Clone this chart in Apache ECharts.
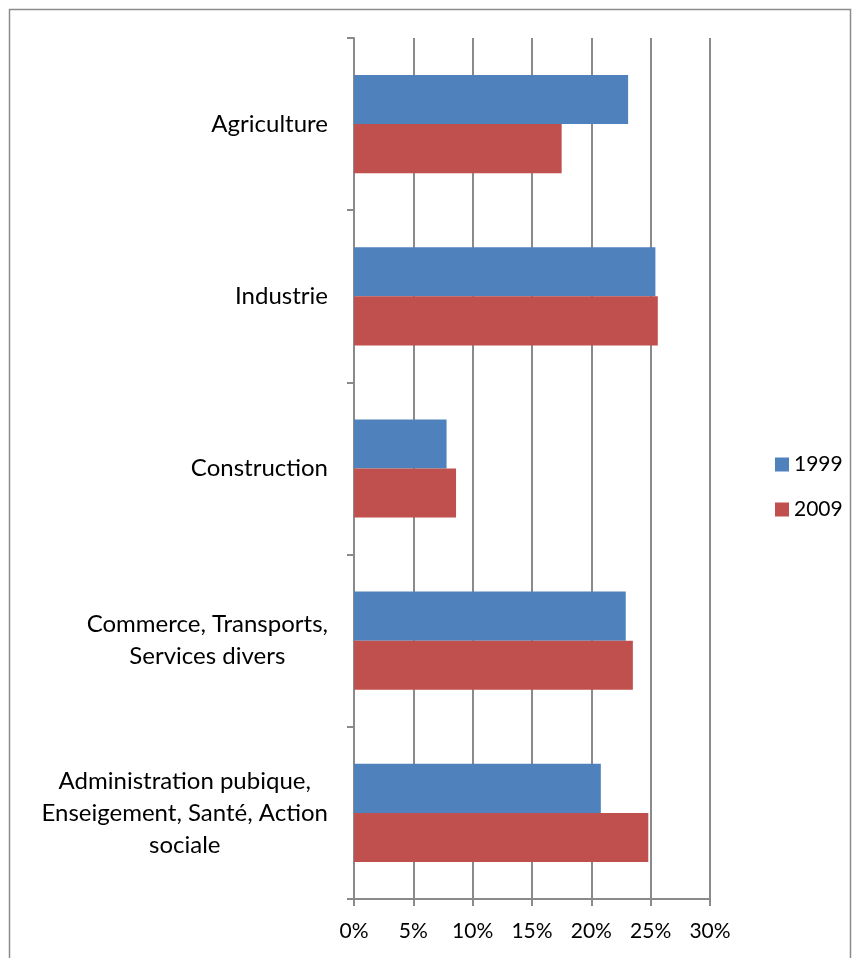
<!DOCTYPE html>
<html>
<head>
<meta charset="utf-8">
<script src="https://cdn.jsdelivr.net/npm/echarts@6/dist/echarts.min.js"></script>
<style>
html,body{margin:0;padding:0;background:#fff;}
#chart{width:852px;height:958px;}
</style>
</head>
<body>
<div id="chart"></div>
<script>
const categories = [
  "Agriculture",
  "Industrie",
  "Construction",
  "Commerce, Transports,\nServices divers",
  "Administration pubique,\nEnseigement, Santé, Action\nsociale"
];
const seriesNames = ["1999", "2009"];
const values1999 = [23.1, 25.4, 7.8, 22.9, 20.8];
const values2009 = [17.5, 25.6, 8.6, 23.5, 24.8];
const xTicks = { min: 0, max: 30, interval: 5 };

const FONT = "Lato, 'Open Sans', sans-serif";
const chart = echarts.init(document.getElementById('chart'));
chart.setOption({
  animation: false,
  backgroundColor: '#ffffff',
  graphic: [{
    type: 'rect',
    shape: { x: 9.5, y: 9.5, width: 841, height: 960 },
    style: { fill: 'none', stroke: '#8c8c8c', lineWidth: 1.5 },
    silent: true
  }],
  grid: { left: 354, right: 142, top: 38, bottom: 59, containLabel: false },
  legend: {
    orient: 'vertical',
    left: 775,
    top: 454,
    padding: 0,
    itemWidth: 14,
    itemHeight: 14,
    itemGap: 24,
    icon: 'rect',
    textStyle: { fontFamily: FONT, fontSize: 21, color: '#000' },
    data: seriesNames
  },
  xAxis: {
    type: 'value',
    min: xTicks.min,
    max: xTicks.max,
    interval: xTicks.interval,
    axisLine: { show: true, lineStyle: { color: '#8a8a8a', width: 2 } },
    axisTick: { show: true, length: 7, lineStyle: { color: '#8a8a8a', width: 2 } },
    splitLine: { show: true, lineStyle: { color: '#8a8a8a', width: 2 } },
    axisLabel: { formatter: '{value}%', fontFamily: FONT, fontSize: 21, color: '#000', margin: 22 }
  },
  yAxis: {
    type: 'category',
    inverse: true,
    data: categories,
    axisLine: { show: true, lineStyle: { color: '#8a8a8a', width: 2 } },
    axisTick: { show: true, length: 7, lineStyle: { color: '#8a8a8a', width: 2 } },
    splitLine: { show: false },
    axisLabel: {
      fontFamily: FONT, fontSize: 24, color: '#000', margin: 26, lineHeight: 32,
      formatter: v => v.split('\n').map(s => '{c|' + s + '}').join('\n'),
      rich: { c: { align: 'center', fontFamily: FONT, fontSize: 24, color: '#000', lineHeight: 32 } }
    }
  },
  series: [
    { name: seriesNames[0], type: 'bar', data: values1999, barGap: '0%', barCategoryGap: '43%',
      itemStyle: { color: '#4F81BD' } },
    { name: seriesNames[1], type: 'bar', data: values2009, barGap: '0%', barCategoryGap: '43%',
      itemStyle: { color: '#C0504D' } }
  ]
});
</script>
</body>
</html>
